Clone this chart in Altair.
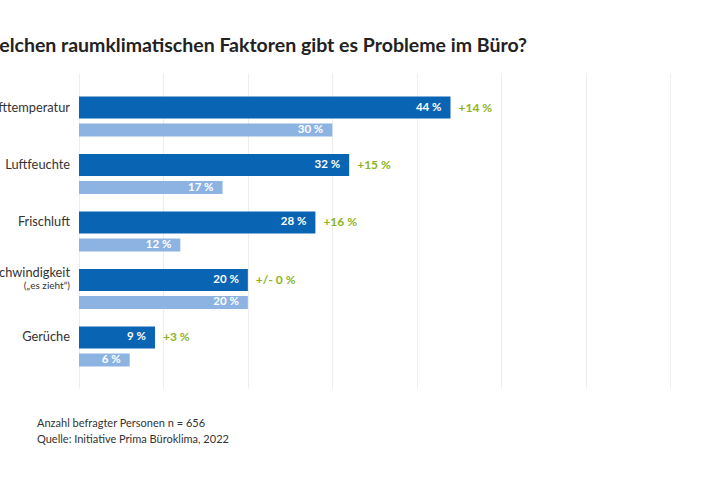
import altair as alt
import pandas as pd

categories = ["Lufttemperatur", "Luftfeuchte", "Frischluft", "Luftgeschwindigkeit", "Gerüche"]
current = [44, 32, 28, 20, 9]
previous = [30, 17, 12, 20, 6]
change = ["+14 %", "+15 %", "+16 %", "+/- 0 %", "+3 %"]
sublabel = {"Luftgeschwindigkeit": "(„es zieht“)"}
title_text = "Bei welchen raumklimatischen Faktoren gibt es Probleme im Büro?"
notes = ["Anzahl befragter Personen n = 656", "Quelle: Initiative Prima Büroklima, 2022"]

FONT = "Lato"
DARK = "#0a64b4"
LIGHT = "#8db3e2"
GREEN = "#8db41e"

df = pd.DataFrame({
    "cat": categories,
    "cur": current,
    "prev": previous,
    "chg": change,
    "cur_lbl": [f"{v} %" for v in current],
    "prev_lbl": [f"{v} %" for v in previous],
    "main": [c for c in categories],
    "sub": [sublabel.get(c, "") for c in categories],
})

yenc = alt.Y("cat:N", sort=categories, axis=None,
             scale=alt.Scale(domain=categories, paddingInner=0, paddingOuter=0.24, align=0.536))
xscale = alt.Scale(domain=[0, 70], nice=False)
base = alt.Chart(df)

grid = base.mark_bar(opacity=0).encode(
    x=alt.X("cur:Q", scale=xscale,
            axis=alt.Axis(values=[0, 10, 20, 30, 40, 50, 60, 70], grid=True, gridColor="#ededed",
                          gridWidth=1, labels=False, ticks=False, domain=False, title=None)),
    y=yenc,
)

dark = base.mark_bar(color=DARK, height=22, yOffset=-9).encode(
    x=alt.X("cur:Q", scale=xscale), y=yenc)
light = base.mark_bar(color=LIGHT, height=13, yOffset=13.5).encode(
    x=alt.X("prev:Q", scale=xscale), y=yenc)

dark_lbl = base.mark_text(align="right", baseline="middle", dx=-9, yOffset=-9, color="white",
                          font=FONT, fontSize=11.5, fontWeight="bold").encode(
    x=alt.X("cur:Q", scale=xscale), y=yenc, text="cur_lbl:N")
light_lbl = base.mark_text(align="right", baseline="middle", dx=-9, yOffset=13.5, color="white",
                           font=FONT, fontSize=11.5, fontWeight="bold").encode(
    x=alt.X("prev:Q", scale=xscale), y=yenc, text="prev_lbl:N")
chg_lbl = base.mark_text(align="left", baseline="middle", dx=8, yOffset=-9, color=GREEN,
                         font=FONT, fontSize=12, fontWeight="bold").encode(
    x=alt.X("cur:Q", scale=xscale), y=yenc, text="chg:N")

main_single = base.transform_filter("datum.sub == ''").mark_text(
    align="right", baseline="middle", yOffset=-9, color="#333333", font=FONT, fontSize=12.8).encode(
    x=alt.value(-9), y=yenc, text="main:N")
main_double = base.transform_filter("datum.sub != ''").mark_text(
    align="right", baseline="middle", yOffset=-15.5, color="#333333", font=FONT, fontSize=12.8).encode(
    x=alt.value(-9), y=yenc, text="main:N")
sub_lbl = base.transform_filter("datum.sub != ''").mark_text(
    align="right", baseline="middle", yOffset=-3, color="#333333", font=FONT, fontSize=10).encode(
    x=alt.value(-9), y=yenc, text="sub:N")

title_df = pd.DataFrame({"t": [title_text]})
title = alt.Chart(title_df).mark_text(align="right", baseline="alphabetic", font=FONT, fontSize=19.5,
                                      fontWeight="bold", color="#222222").encode(
    x=alt.value(448), y=alt.value(-21), text="t:N")

notes_df = pd.DataFrame({"t": notes, "i": [0, 1]})
note1 = alt.Chart(notes_df).transform_filter("datum.i == 0").mark_text(
    align="left", baseline="alphabetic", font=FONT, fontSize=11, color="#333333").encode(
    x=alt.value(-42), y=alt.value(354), text="t:N")
note2 = alt.Chart(notes_df).transform_filter("datum.i == 1").mark_text(
    align="left", baseline="alphabetic", font=FONT, fontSize=11, color="#333333").encode(
    x=alt.value(-42), y=alt.value(370), text="t:N")

chart = alt.layer(grid, dark, light, dark_lbl, light_lbl, chg_lbl, main_single, main_double, sub_lbl,
                  title, note1, note2).properties(
    width=591, height=315,
    autosize=alt.AutoSizeParams(type="none"),
    padding={"left": 79, "top": 73, "right": 50, "bottom": 92},
).configure(background="white").configure_view(stroke=None, strokeWidth=0)

chart.save("out.html", embed_options={"renderer": "svg", "actions": False})
